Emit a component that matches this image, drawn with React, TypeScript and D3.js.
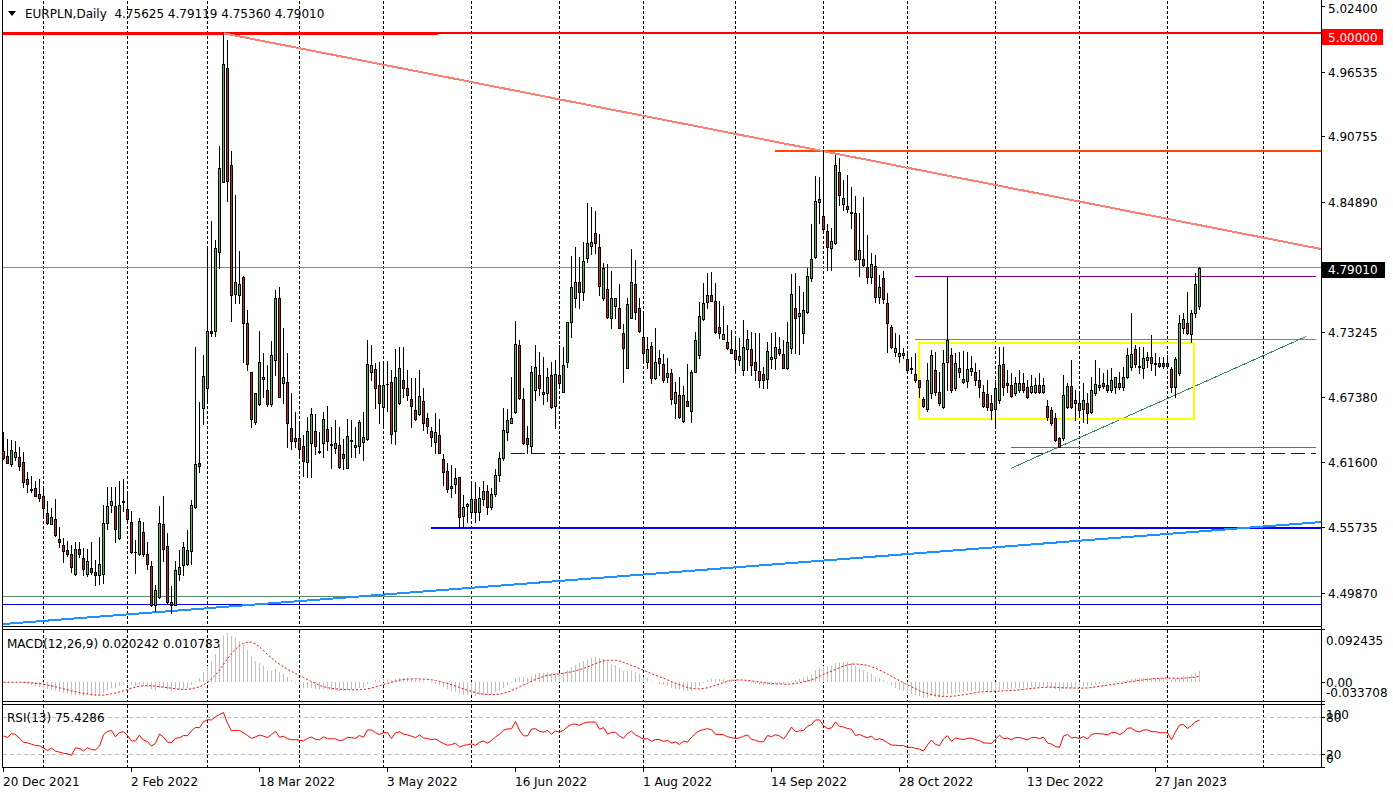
import React from 'react';
import * as d3 from 'd3';

// ---------------- DATA ----------------
const symbolTitle = 'EURPLN,Daily';
const headerOHLC = ['4.75625', '4.79119', '4.75360', '4.79010'];
const startDate = '2021-12-20';
const holidays = ['2022-12-26'];
const labelEvery = 32;
const futureGridBar = 315;

const opens = [
4.6259,4.6215,4.6141,4.6205,4.6208,4.6164,4.6012,4.5921,4.5928,4.5877,
4.5860,4.5702,4.5610,4.5651,4.5472,4.5421,4.5374,4.5340,4.5161,4.5381,
4.5303,4.5161,4.5212,4.5178,4.5151,4.5161,4.5617,4.5779,4.5769,4.5482,
4.5803,4.5742,4.5624,4.5361,4.5337,4.5533,4.5340,4.5229,4.4881,4.4955,
4.5607,4.5408,4.4908,4.4881,4.5158,4.5239,4.5246,4.5364,4.5759,4.6151,
4.6647,4.6826,4.7339,4.7339,4.8042,4.8670,4.9690,4.8820,4.7667,4.7655,
4.7815,4.7409,4.6965,4.6523,4.6678,4.6920,4.6807,4.6678,4.7075,4.7627,
4.6866,4.6875,4.6464,4.6374,4.6374,4.6305,4.6165,4.6335,4.6440,4.6261,
4.6335,4.6455,4.6323,4.6290,4.6311,4.6234,4.6111,4.6359,4.6293,4.6305,
4.6344,4.6365,4.6971,4.6992,4.6851,4.6657,4.6857,4.6875,4.6443,4.6687,
4.6896,4.6822,4.6723,4.6628,4.6589,4.6708,4.6559,4.6440,4.6338,4.6404,
4.6189,4.6082,4.5926,4.5965,4.6025,4.5682,4.5771,4.5712,4.5828,4.5714,
4.5830,4.5900,4.5760,4.5880,4.6050,4.6195,4.6434,4.6508,4.6607,4.7210,
4.6726,4.6374,4.6306,4.6807,4.6941,4.6792,4.6777,4.6941,4.6667,4.6941,
4.6792,4.7055,4.7413,4.7627,4.7770,4.7687,4.7991,4.8096,4.8209,4.8090,
4.7627,4.7708,4.7454,4.7562,4.7538,4.7314,4.7007,4.7454,4.7753,4.7538,
4.7284,4.7055,4.7201,4.6911,4.7090,4.7037,4.6926,4.6956,4.6688,4.6762,
4.6532,4.6708,4.6622,4.6971,4.7120,4.7439,4.7597,4.7657,4.7603,4.7374,
4.7263,4.7240,4.7174,4.7165,4.7075,4.6986,4.7171,4.7171,4.7058,4.6974,
4.6947,4.6902,4.7087,4.7090,4.7171,4.7126,4.7007,4.7180,4.7538,4.7472,
4.7320,4.7508,4.7806,4.8000,4.8487,4.8364,4.8233,4.8075,4.8120,4.8755,
4.8469,4.8454,4.8403,4.8388,4.7977,4.7980,4.7905,4.7815,4.7920,4.7636,
4.7806,4.7582,4.7374,4.7150,4.7114,4.7123,4.7081,4.7001,4.6950,4.6896,
4.6726,4.6634,4.6783,4.6986,4.6792,4.6651,4.7060,4.7120,4.6822,4.7001,
4.6881,4.6890,4.6980,4.6965,4.6896,4.6792,4.6771,4.6693,4.6634,4.6717,
4.7039,4.6866,4.6851,4.6777,4.6807,4.6872,4.6837,4.6792,4.6792,4.6851,
4.6792,4.6663,4.6628,4.6553,4.6374,4.6374,4.6657,4.6842,4.6717,4.6693,
4.6634,4.6693,4.6613,4.6777,4.6831,4.6866,4.6851,4.6807,4.6837,4.6872,
4.6831,4.6926,4.7009,4.7171,4.7021,4.7001,4.7075,4.7105,4.7039,4.7051,
4.7045,4.7051,4.6992,4.6837,4.6956,4.7359,4.7409,4.7308,4.7499,4.75625
];
const highs = [
4.6434,4.6367,4.6360,4.6353,4.6299,4.6252,4.6073,4.6039,4.5989,4.6012,
4.5928,4.5813,4.5752,4.5833,4.5577,4.5482,4.5455,4.5415,4.5442,4.5442,
4.5394,4.5381,4.5442,4.5286,4.5492,4.5779,4.5938,4.5938,4.5938,4.5989,
4.6012,4.5887,4.5725,4.5465,4.5658,4.5624,4.5448,4.5273,4.5060,4.5769,
4.5860,4.5523,4.5050,4.5280,4.5374,4.5448,4.5550,4.5826,4.7194,4.6698,
4.7120,4.8089,4.8318,4.8150,4.8995,5.0000,4.9943,4.8950,4.8550,4.8051,
4.7830,4.7520,4.6965,4.6777,4.7335,4.7135,4.7030,4.7245,4.7702,4.7732,
4.7359,4.7141,4.6777,4.6613,4.6514,4.6404,4.6568,4.6643,4.6589,4.6434,
4.6613,4.6663,4.6478,4.6538,4.6478,4.6365,4.6544,4.6538,4.6478,4.6538,
4.6613,4.7254,4.7210,4.7051,4.7060,4.7060,4.7069,4.6986,4.7174,4.7195,
4.7195,4.6986,4.6911,4.6911,4.6986,4.6822,4.6598,4.6478,4.6598,4.6544,
4.6234,4.6150,4.6135,4.6105,4.6031,4.5867,4.5792,4.5986,4.5986,4.5941,
4.5990,4.5960,4.5930,4.6100,4.6250,4.6643,4.6637,4.6926,4.7425,4.7254,
4.6828,4.6487,4.7025,4.7210,4.7150,4.7099,4.7007,4.7055,4.7075,4.7210,
4.7195,4.7419,4.8006,4.8090,4.8000,4.8135,4.8478,4.8448,4.8409,4.8200,
4.7941,4.7932,4.7872,4.7633,4.7753,4.7395,4.7633,4.8069,4.7971,4.7627,
4.7493,4.7284,4.7240,4.7365,4.7165,4.7126,4.7090,4.6995,4.6875,4.6926,
4.6846,4.7037,4.6986,4.7329,4.7592,4.7762,4.7851,4.7866,4.7762,4.7607,
4.7559,4.7389,4.7344,4.7278,4.7269,4.7434,4.7344,4.7329,4.7314,4.7320,
4.7016,4.7240,4.7320,4.7329,4.7284,4.7254,4.7419,4.7845,4.7851,4.7738,
4.7687,4.7896,4.8293,4.8723,4.8717,4.8955,4.8293,4.8254,4.8911,4.8881,
4.8687,4.8731,4.8621,4.8543,4.8388,4.8532,4.8194,4.8030,4.8015,4.7836,
4.7875,4.7678,4.7389,4.7314,4.7299,4.7180,4.7135,4.7100,4.7135,4.6900,
4.6740,4.7045,4.7165,4.7150,4.6971,4.7165,4.7825,4.7180,4.7135,4.7150,
4.7159,4.7150,4.7111,4.7045,4.6986,4.6851,4.6896,4.6762,4.6896,4.7188,
4.7188,4.6986,4.6956,4.6926,4.6986,4.6956,4.6896,4.6941,4.6911,4.6956,
4.6911,4.6717,4.6657,4.6598,4.6390,4.6941,4.6866,4.7075,4.6807,4.6792,
4.6866,4.6777,4.6926,4.7075,4.7001,4.6956,4.6986,4.7001,4.6926,4.6971,
4.7015,4.7180,4.7493,4.7210,4.7195,4.7195,4.7150,4.7299,4.7135,4.7105,
4.7105,4.7120,4.7015,4.7105,4.7478,4.7493,4.7687,4.7523,4.7851,4.79119
];
const lows = [
4.6191,4.6151,4.6124,4.6184,4.6090,4.5938,4.5894,4.5894,4.5854,4.5813,
4.5691,4.5610,4.5604,4.5499,4.5398,4.5269,4.5320,4.5178,4.5155,4.5313,
4.5151,4.5144,4.5158,4.5057,4.5070,4.5077,4.5566,4.5712,4.5448,4.5475,
4.5725,4.5634,4.5347,4.5171,4.5330,4.5320,4.5205,4.4875,4.4830,4.4945,
4.5273,4.4891,4.4813,4.4881,4.5104,4.5151,4.5236,4.5246,4.5752,4.6073,
4.6502,4.6715,4.7288,4.7288,4.7900,4.8670,4.8498,4.7423,4.7583,4.7590,
4.7060,4.6986,4.6478,4.6502,4.6672,4.6747,4.6663,4.6663,4.6941,4.6740,
4.6687,4.6299,4.6276,4.6299,4.6216,4.6037,4.6031,4.6031,4.6234,4.6240,
4.6210,4.6270,4.6105,4.6240,4.6105,4.6096,4.6105,4.6210,4.6210,4.6246,
4.6180,4.6359,4.6896,4.6649,4.6514,4.6487,4.6622,4.6335,4.6323,4.6680,
4.6741,4.6717,4.6478,4.6538,4.6583,4.6448,4.6425,4.6305,4.6246,4.6240,
4.5956,4.5897,4.5846,4.5882,4.5583,4.5577,4.5628,4.5679,4.5628,4.5643,
4.5780,4.5700,4.5740,4.5860,4.5990,4.6180,4.6359,4.6508,4.6600,4.6726,
4.6320,4.6240,4.6240,4.6717,4.6762,4.6679,4.6708,4.6643,4.6464,4.6822,
4.6786,4.7016,4.7284,4.7553,4.7538,4.7612,4.7956,4.8021,4.8030,4.7657,
4.7612,4.7448,4.7365,4.7448,4.7360,4.6881,4.7000,4.7450,4.7442,4.7329,
4.7046,4.7001,4.6867,4.6905,4.6941,4.6881,4.6875,4.6679,4.6559,4.6560,
4.6523,4.6660,4.6523,4.6965,4.7090,4.7430,4.7538,4.7600,4.7320,4.7269,
4.7260,4.7171,4.7135,4.6986,4.7031,4.6941,4.6986,4.6941,4.6896,4.6831,
4.6822,4.6822,4.7001,4.6992,4.7120,4.7001,4.6998,4.7135,4.7135,4.7129,
4.7225,4.7500,4.7786,4.7990,4.8299,4.8224,4.7881,4.7881,4.8114,4.8463,
4.8418,4.8403,4.8254,4.7971,4.7827,4.7917,4.7768,4.7768,4.7597,4.7582,
4.7582,4.7150,4.7180,4.7111,4.7061,4.7090,4.6956,4.6960,4.6881,4.6747,
4.6651,4.6622,4.6732,4.6762,4.6672,4.6642,4.6807,4.6792,4.6807,4.6926,
4.6866,4.6837,4.6941,4.6851,4.6747,4.6657,4.6628,4.6544,4.6493,4.6693,
4.6762,4.6792,4.6747,4.6762,4.6792,4.6792,4.6732,4.6777,4.6777,4.6777,
4.6777,4.6538,4.6493,4.6350,4.6293,4.6359,4.6643,4.6643,4.6538,4.6568,
4.6523,4.6508,4.6598,4.6762,4.6807,4.6822,4.6792,4.6792,4.6777,4.6813,
4.6807,4.6911,4.6986,4.7015,4.6956,4.6911,4.7015,4.6986,4.6941,4.7015,
4.7001,4.7001,4.6792,4.6747,4.6941,4.7314,4.7308,4.7240,4.7463,4.75360
];
const closes = [
4.6198,4.6157,4.6269,4.6252,4.6131,4.5982,4.5961,4.5908,4.5854,4.5843,
4.5752,4.5617,4.5668,4.5506,4.5442,4.5364,4.5337,4.5219,4.5381,4.5340,
4.5205,4.5279,4.5178,4.5155,4.5246,4.5617,4.5769,4.5813,4.5560,4.5779,
4.5810,4.5651,4.5357,4.5354,4.5634,4.5337,4.5246,4.4881,4.5020,4.5617,
4.5388,4.4908,4.4881,4.5195,4.5219,4.5398,4.5374,4.5779,4.6141,4.6124,
4.6934,4.7339,4.7319,4.8082,4.8795,4.9728,4.8676,4.7657,4.7771,4.7755,
4.7409,4.7036,4.6544,4.6777,4.7054,4.6902,4.6678,4.7120,4.7627,4.6747,
4.6920,4.6508,4.6353,4.6353,4.6276,4.6174,4.6440,4.6589,4.6308,4.6255,
4.6544,4.6353,4.6317,4.6329,4.6120,4.6195,4.6395,4.6353,4.6314,4.6517,
4.6383,4.7036,4.7030,4.6828,4.6693,4.6851,4.6860,4.6413,4.6920,4.7001,
4.6822,4.6762,4.6666,4.6544,4.6753,4.6514,4.6487,4.6383,4.6428,4.6246,
4.6070,4.5917,4.5947,4.6016,4.5673,4.5756,4.5783,4.5828,4.5712,4.5840,
4.5900,4.5760,4.5880,4.6050,4.6200,4.6449,4.6538,4.6553,4.7216,4.6732,
4.6329,4.6320,4.6965,4.7016,4.6822,4.6768,4.6920,4.6658,4.6947,4.6866,
4.7031,4.7413,4.7726,4.7770,4.7687,4.7962,4.8120,4.8129,4.8120,4.7741,
4.7902,4.7463,4.7633,4.7627,4.7365,4.7186,4.7574,4.7777,4.7502,4.7335,
4.7135,4.7174,4.6917,4.7055,4.7046,4.6896,4.6956,4.6726,4.6792,4.6568,
4.6762,4.6667,4.6965,4.7254,4.7469,4.7582,4.7657,4.7603,4.7329,4.7314,
4.7308,4.7180,4.7141,4.7087,4.7111,4.7189,4.7260,4.7031,4.6986,4.6896,
4.6896,4.7159,4.7105,4.7195,4.7141,4.7007,4.7234,4.7666,4.7448,4.7493,
4.7523,4.7827,4.7980,4.8499,4.8517,4.8245,4.8090,4.8141,4.8821,4.8552,
4.8523,4.8430,4.8388,4.7977,4.8060,4.7926,4.7821,4.7935,4.7636,4.7726,
4.7618,4.7403,4.7195,4.7180,4.7135,4.7141,4.6986,4.6992,4.6896,4.6837,
4.6663,4.6896,4.7120,4.6792,4.6687,4.7045,4.7254,4.6807,4.7045,4.6965,
4.6902,4.6992,4.7001,4.6896,4.6837,4.6663,4.6651,4.6628,4.6822,4.7030,
4.6831,4.6854,4.6753,4.6866,4.6866,4.6807,4.6747,4.6842,4.6851,4.6792,
4.6851,4.6568,4.6508,4.6359,4.6299,4.6762,4.6842,4.6657,4.6693,4.6628,
4.6717,4.6598,4.6807,4.6860,4.6851,4.6842,4.6807,4.6896,4.6920,4.6837,
4.6926,4.7120,4.7129,4.7039,4.7009,4.7090,4.7099,4.7045,4.7051,4.7021,
4.7021,4.7021,4.6837,4.7081,4.7404,4.7439,4.7320,4.7499,4.7756,4.79010
];

// price axis tick labels, MACD / RSI axis labels
const priceTicks = [5.024, 4.96535, 4.90755, 4.8489, 4.73245, 4.6738, 4.616, 4.55735, 4.4987];
const lastPrice = 4.7901;
const alertPrice = 5.0;
const macdAxis = [{ v: 0.092435, t: '0.092435' }, { v: 0, t: '0.00' }, { v: -0.033708, t: '-0.033708' }];
const rsiAxis = [100, 80, 20, 0];
const rsiLevels = [80, 20];
const macdParams = [12, 26, 9];
const rsiPeriod = 13;
const macdLegend = ['0.020242', '0.010783'];
const rsiLegend = '75.4286';

// chart objects (anchors in bar number / price)
const hLines = [
  { p: 5.0, b0: -2, b1: 340, c: '#FF0000', w: 2 },
  { p: 5.0, b0: -2, b1: 108.6, c: '#FF0000', w: 3 },
  { p: 4.8946, b0: 192.9, b1: 340, c: '#FF4500', w: 2 },
  { p: 4.7827, b0: 227.9, b1: 328.1, c: '#800080', w: 1 },
  { p: 4.7256, b0: 227.9, b1: 328.1, c: '#808080', w: 1 },
  { p: 4.6295, b0: 251.9, b1: 328.1, c: '#6A5ACD', w: 1 },
  { p: 4.5572, b0: 106.9, b1: 340, c: '#0000FF', w: 2 },
  { p: 4.4956, b0: -2, b1: 340, c: '#5E8C72', w: 1 },
  { p: 4.4891, b0: -2, b1: 340, c: '#0000DD', w: 1 },
];
const dashedLine = { p: 4.624, b0: 126.9, b1: 328.1, c: '#0000FF', w: 1 };
const trendLines = [
  { b0: 55, p0: 5.0, b1: 329.4, p1: 4.8069, c: '#FA8072', w: 2 },
  { b0: -0.1, p0: 4.4712, b1: 329.4, p1: 4.5625, c: '#1E90FF', w: 2 },
  { b0: 251.9, p0: 4.6106, b1: 325.6, p1: 4.7285, c: '#2E8B57', w: 1 },
];
const rectangle = { b0: 228.9, b1: 297.7, p0: 4.7232, p1: 4.6556, c: '#FFFF00' };

// ---------------- LAYOUT ----------------
const W = 1393, H = 795;
const LEFT = 2.5, AXIS = 1321.5;
const mainP = { top: 0.5, bottom: 626.5 };
const macdP = { top: 629.5, bottom: 701.5 };
const rsiP = { top: 704.5, bottom: 767.5 };
const FONT = "'DejaVu Sans', Verdana, sans-serif";
const BULL = '#33CC33', BEAR = '#D42020';

function buildDates(n: number) {
  const out: Date[] = [];
  let d = new Date(startDate + 'T00:00:00Z');
  while (out.length < n) {
    const dow = d.getUTCDay();
    const iso = d.toISOString().slice(0, 10);
    if (dow !== 0 && dow !== 6 && !holidays.includes(iso)) out.push(new Date(d.getTime()));
    d = new Date(d.getTime() + 86400000);
  }
  return out;
}

function emaOf(v: number[], n: number) {
  const k = 2 / (n + 1);
  const out: number[] = [];
  v.forEach((x, i) => out.push(i === 0 ? x : x * k + out[i - 1] * (1 - k)));
  return out;
}

const snap = (v: number) => Math.round(v - 0.5) + 0.5;

export default function App() {
  const N = closes.length;
  const dates = buildDates(N);
  const x = d3.scaleLinear().domain([0, 1]).range([3.5, 7.5]);
  const y = d3.scaleLinear().domain([4.4987, 5.0]).range([593.3, 33.3]);
  const yM = d3.scaleLinear().domain([-0.033708, 0.092435]).range([macdP.bottom, macdP.top]);
  const yR = d3.scaleLinear().domain([0, 100]).range([rsiP.bottom, rsiP.top]);

  // indicators derived from the close series (MT4 definitions)
  const e1 = emaOf(closes, macdParams[0]);
  const e2 = emaOf(closes, macdParams[1]);
  const macd = closes.map((_, i) => e1[i] - e2[i]);
  const signal = macd.map((_, i) => {
    const s = Math.max(0, i - macdParams[2] + 1);
    return d3.mean(macd.slice(s, i + 1)) as number;
  });
  const changes = closes.slice(1).map((c, i) => c - closes[i]);
  // neutral seed (no history before the first visible bar)
  const seedAbs = (d3.mean(changes.slice(0, rsiPeriod).map((c) => Math.abs(c))) as number) / 2;
  let ag = seedAbs;
  let al = seedAbs;
  const rsi: number[] = [50];
  changes.forEach((ch) => {
    ag = (ag * (rsiPeriod - 1) + Math.max(ch, 0)) / rsiPeriod;
    al = (al * (rsiPeriod - 1) + Math.max(-ch, 0)) / rsiPeriod;
    rsi.push(al === 0 ? 100 : 100 - 100 / (1 + ag / al));
  });

  const gridBars: number[] = [];
  for (let i = 1; i < N; i++) if (dates[i].getUTCMonth() !== dates[i - 1].getUTCMonth()) gridBars.push(i);
  gridBars.push(futureGridBar);
  const fmt = d3.utcFormat('%-d %b %Y');
  const labelBars = d3.range(0, N, labelEvery);

  const sigLine = d3.line<number>().x((_, i) => x(i)).y((d) => yM(d))(signal) || '';
  const rsiLine = d3.line<number>().x((_, i) => x(i)).y((d) => yR(d))(rsi) || '';

  const vgrid = (top: number, bottom: number, key: string) =>
    gridBars.map((b) => (
      <line key={key + b} x1={x(b)} x2={x(b)} y1={top} y2={bottom} stroke="#000" strokeWidth={1} strokeDasharray="3,2" />
    ));

  const clamp = (v: number, lo: number, hi: number) => Math.max(lo, Math.min(hi, v));
  const hy = (p: number, w: number) => (w % 2 === 1 ? snap(y(p)) : Math.round(y(p)));

  return (
    <svg width={W} height={H} style={{ position: 'absolute', left: 0, top: 0, background: '#fff' }} fontFamily={FONT}>
      <defs>
        <clipPath id="cMain"><rect x={LEFT} y={mainP.top} width={AXIS - LEFT} height={mainP.bottom - mainP.top} /></clipPath>
        <clipPath id="cMacd"><rect x={LEFT} y={macdP.top} width={AXIS - LEFT} height={macdP.bottom - macdP.top} /></clipPath>
        <clipPath id="cRsi"><rect x={LEFT} y={rsiP.top} width={AXIS - LEFT} height={rsiP.bottom - rsiP.top} /></clipPath>
      </defs>
      <rect x={0} y={0} width={W} height={H} fill="#fff" />

      {/* MAIN PANEL */}
      <g clipPath="url(#cMain)" shapeRendering="crispEdges">
        {vgrid(mainP.top, mainP.bottom, 'gm')}
        {hLines.map((l, i) => (
          <line key={'h' + i} x1={x(l.b0)} x2={x(l.b1)} y1={hy(l.p, l.w)} y2={hy(l.p, l.w)} stroke={l.c} strokeWidth={l.w} />
        ))}
        <line x1={LEFT} x2={AXIS} y1={snap(y(lastPrice))} y2={snap(y(lastPrice))} stroke="#7F8A96" strokeWidth={1} />
        <line x1={x(dashedLine.b0)} x2={x(dashedLine.b1)} y1={snap(y(dashedLine.p))} y2={snap(y(dashedLine.p))} stroke={dashedLine.c} strokeWidth={dashedLine.w} strokeDasharray="14,6" />
        {trendLines.map((t, i) => (
          <line key={'t' + i} x1={x(t.b0)} x2={x(t.b1)} y1={y(t.p0)} y2={y(t.p1)} stroke={t.c} strokeWidth={t.w} />
        ))}
        <rect x={Math.round(x(rectangle.b0))} y={Math.round(y(rectangle.p0))} width={Math.round(x(rectangle.b1) - x(rectangle.b0))} height={Math.round(y(rectangle.p1) - y(rectangle.p0))} fill="none" stroke={rectangle.c} strokeWidth={2} />
        {closes.map((c, i) => {
          const o = opens[i];
          const cx = x(i);
          const top = Math.round(y(Math.max(o, c))) + 0.5;
          const bot = Math.round(y(Math.min(o, c))) + 0.5;
          const hgt = bot - top;
          return (
            <g key={'c' + i}>
              <line x1={cx} x2={cx} y1={Math.round(y(highs[i]))} y2={Math.round(y(lows[i])) + 1} stroke="#000" strokeWidth={1} />
              {hgt < 1 ? (
                <line x1={cx - 1.5} x2={cx + 1.5} y1={top} y2={top} stroke="#000" strokeWidth={1} />
              ) : (
                <rect x={cx - 1} y={top} width={2} height={hgt} fill={c >= o ? BULL : BEAR} stroke="#000" strokeWidth={1} />
              )}
            </g>
          );
        })}
      </g>
      <g>
        <path d="M8,11 L16,11 L12,16 Z" fill="#000" />
        <text x={25} y={18} fontSize={12} style={{ whiteSpace: 'pre' }}>{symbolTitle + '  ' + headerOHLC.join(' ')}</text>
      </g>

      {/* MACD PANEL */}
      <g clipPath="url(#cMacd)" shapeRendering="crispEdges">
        {vgrid(macdP.top, macdP.bottom, 'gd')}
        {macd.map((m, i) => (
          <line key={'m' + i} x1={x(i)} x2={x(i)} y1={Math.round(yM(0))} y2={Math.round(yM(m))} stroke="#C0C0C0" strokeWidth={1} />
        ))}
      </g>
      <g clipPath="url(#cMacd)">
        <path d={sigLine} fill="none" stroke="#FF0000" strokeWidth={1} strokeDasharray="2,2" />
      </g>
      <text x={7} y={648} fontSize={12}>{`MACD(${macdParams.join(',')}) ${macdLegend.join(' ')}`}</text>

      {/* RSI PANEL */}
      <g clipPath="url(#cRsi)" shapeRendering="crispEdges">
        {vgrid(rsiP.top, rsiP.bottom, 'gr')}
        {rsiLevels.map((l) => (
          <line key={'l' + l} x1={LEFT} x2={AXIS} y1={snap(yR(l))} y2={snap(yR(l))} stroke="#C0C0C0" strokeWidth={1} strokeDasharray="4,3" />
        ))}
      </g>
      <g clipPath="url(#cRsi)">
        <path d={rsiLine} fill="none" stroke="#FF0000" strokeWidth={1} />
      </g>
      <text x={7} y={722} fontSize={12}>{`RSI(${rsiPeriod}) ${rsiLegend}`}</text>

      {/* FRAMES */}
      <g stroke="#000" strokeWidth={1} fill="none" shapeRendering="crispEdges">
        <line x1={LEFT} x2={LEFT} y1={0} y2={rsiP.bottom} />
        <line x1={AXIS} x2={AXIS} y1={0} y2={rsiP.bottom + 0.5} />
        <line x1={LEFT} x2={AXIS} y1={mainP.bottom} y2={mainP.bottom} />
        <line x1={LEFT} x2={AXIS} y1={macdP.top} y2={macdP.top} />
        <line x1={LEFT} x2={AXIS} y1={macdP.bottom} y2={macdP.bottom} />
        <line x1={LEFT} x2={AXIS} y1={rsiP.top} y2={rsiP.top} />
        <line x1={LEFT} x2={AXIS} y1={rsiP.bottom} y2={rsiP.bottom} />
      </g>

      {/* PRICE AXIS */}
      {priceTicks.map((p) => (
        <g key={'p' + p}>
          <line x1={AXIS} x2={AXIS + 3} y1={snap(y(p))} y2={snap(y(p))} stroke="#000" shapeRendering="crispEdges" />
          <text x={1328} y={Math.max(y(p), 8) + 4.5} fontSize={12}>{p.toFixed(5)}</text>
        </g>
      ))}
      <rect x={1322} y={Math.round(y(alertPrice)) - 4} width={61} height={16} fill="#FF0000" />
      <text x={1328} y={y(alertPrice) + 8.5} fontSize={12} fill="#fff">{alertPrice.toFixed(5)}</text>
      <rect x={1322} y={Math.round(y(lastPrice)) - 6} width={63} height={16} fill="#000" />
      <text x={1328} y={y(lastPrice) + 6.5} fontSize={12} fill="#fff">{lastPrice.toFixed(5)}</text>

      {/* MACD / RSI AXES */}
      {macdAxis.map((a) => (
        <g key={'ma' + a.t}>
          <line x1={AXIS} x2={AXIS + 3} y1={snap(yM(a.v))} y2={snap(yM(a.v))} stroke="#000" shapeRendering="crispEdges" />
          <text x={1326} y={clamp(yM(a.v), macdP.top + 11, macdP.bottom - 9) + 4.5} fontSize={12}>{a.t}</text>
        </g>
      ))}
      {rsiAxis.map((v) => (
        <g key={'ra' + v}>
          <line x1={AXIS} x2={AXIS + 3} y1={snap(yR(v))} y2={snap(yR(v))} stroke="#000" shapeRendering="crispEdges" />
          <text x={1326} y={clamp(yR(v), rsiP.top + 10, rsiP.bottom - 9.5) + 4.5} fontSize={12}>{v}</text>
        </g>
      ))}

      {/* TIME AXIS */}
      {labelBars.map((b) => (
        <g key={'x' + b}>
          <line x1={x(b) - 0.5} x2={x(b) - 0.5} y1={rsiP.bottom} y2={rsiP.bottom + 4} stroke="#000" shapeRendering="crispEdges" />
          <text x={x(b) - 0.5} y={786} fontSize={12}>{fmt(dates[b])}</text>
        </g>
      ))}
    </svg>
  );
}
